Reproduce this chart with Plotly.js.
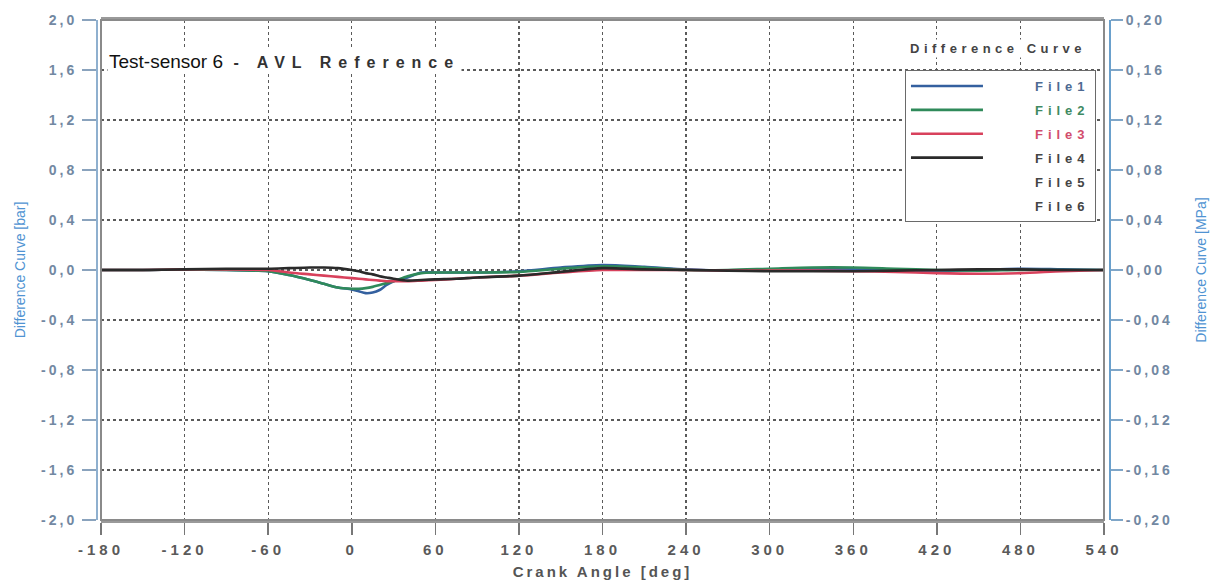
<!DOCTYPE html>
<html>
<head>
<meta charset="utf-8">
<script src="https://cdn.plot.ly/plotly-3.0.1.min.js"></script>
<style>
  html, body { margin: 0; padding: 0; background: #fff; }
  #chart { width: 1213px; height: 587px; }
  .xtick text { letter-spacing: 4px; }
  .ytick text, .y2tick text { letter-spacing: 3px; }
</style>
</head>
<body>
<div id="chart"></div>
<script>
// ---- data ----
const angles = [-180,-150,-120,-90,-60,-45,-30,-20,-10,0,5,10,15,20,25,30,40,50,60,75,90,120,150,180,210,240,270,300,330,360,390,420,450,480,510,540];

const file1 = [0,0,0.005,0,-0.01, -0.04,-0.08,-0.11,-0.14,-0.155, -0.17,-0.185,-0.18,-0.16,-0.12, -0.09,-0.06,-0.02,-0.02,-0.02, -0.02,-0.01,0.02,0.04,0.025, 0.005,-0.005,0,0.01,0.005, -0.005,-0.01,0,0.01,0.005, 0];
const file2 = [0,0,0.005,0,-0.01, -0.04,-0.08,-0.11,-0.14,-0.15, -0.15,-0.145,-0.135,-0.12,-0.105, -0.09,-0.05,-0.025,-0.02,-0.02, -0.02,-0.015,0.01,0.03,0.02, 0,0,0.01,0.02,0.02, 0.01,0,-0.005,0,0, 0];
const file3 = [0,0,0.005,0.005,0, -0.02,-0.035,-0.045,-0.055,-0.065, -0.07,-0.075,-0.08,-0.085,-0.09, -0.09,-0.09,-0.085,-0.08,-0.07, -0.06,-0.045,-0.02,0,0, 0,-0.005,-0.005,-0.005,-0.01, -0.015,-0.025,-0.03,-0.025,-0.01, 0];
const file4 = [0,0,0.005,0.01,0.01, 0.015,0.02,0.02,0.015,0, -0.01,-0.025,-0.035,-0.05,-0.06, -0.07,-0.085,-0.08,-0.075,-0.07, -0.06,-0.045,-0.015,0.015,0.005, 0,-0.005,-0.01,-0.01,-0.01, -0.005,0,0.005,0.005,0, 0];
const file5 = [];
const file6 = [];

const seriesNames = ['File1','File2','File3','File4','File5','File6'];
const seriesColors = ['#34609f','#2f8a5a','#d8415c','#2a2a2a','#2a2a2a','#2a2a2a'];
const legendTextColors = ['#4d6a92','#3f8a62','#d24d6c','#454545','#454545','#454545'];

const xTickVals = [-180,-120,-60,0,60,120,180,240,300,360,420,480,540];
const xTickText = ['-180','-120','-60','0','60','120','180','240','300','360','420','480','540'];
const yTickVals = [-2,-1.6,-1.2,-0.8,-0.4,0,0.4,0.8,1.2,1.6,2];
const yTickText = ['-2,0','-1,6','-1,2','-0,8','-0,4','0,0','0,4','0,8','1,2','1,6','2,0'];
const y2TickVals = [-0.2,-0.16,-0.12,-0.08,-0.04,0,0.04,0.08,0.12,0.16,0.2];
const y2TickText = ['-0,20','-0,16','-0,12','-0,08','-0,04','0,00','0,04','0,08','0,12','0,16','0,20'];

// ---- traces ----
const FONT = 'Liberation Sans, Arial, sans-serif';
const allSeries = [file1,file2,file3,file4,file5,file6];
const pad = '\u00a0'.repeat(13);
const traces = allSeries.map((vals, i) => ({
  type: 'scatter',
  mode: 'lines',
  x: vals.length ? angles : [null],
  y: vals.length ? vals : [null],
  yaxis: vals.length ? 'y' : 'y2',
  name: pad + '<span style="color:' + legendTextColors[i] + ';letter-spacing:5px">' + seriesNames[i] + '</span>',
  legendgroup: 'g' + i,
  line: { color: vals.length ? seriesColors[i] : 'rgba(0,0,0,0)', width: vals.length ? 2.6 : 0, shape: 'spline', smoothing: 0.8 },
  hoverinfo: 'x+y'
}));

const gridDot = { showgrid: true, gridcolor: '#5a5a5a', griddash: 'dot', gridwidth: 1.3 };

const layout = {
  width: 1213, height: 587,
  margin: { l: 97, r: 103, t: 20, b: 67 },
  paper_bgcolor: '#ffffff', plot_bgcolor: '#ffffff',
  showlegend: true,
  legend: {
    x: 0.7976, xanchor: 'left', y: 0.9, yanchor: 'top',
    bordercolor: '#6a6a6a', borderwidth: 1, bgcolor: '#ffffff',
    traceorder: 'grouped', tracegroupgap: 4, itemwidth: 72,
    font: { family: FONT, size: 13, color: '#444', weight: 'bold' }
  },
  xaxis: Object.assign({
    domain: [4/1013, 1 - 6/1013],
    range: [-180, 540],
    tickmode: 'array', tickvals: xTickVals, ticktext: xTickText,
    ticks: 'outside', ticklen: 12, tickwidth: 1.5, tickcolor: '#777',
    ticklabelstandoff: 2,
    tickfont: { family: FONT, size: 15, color: '#5a5a5a', weight: 'bold' },
    showline: true, linecolor: '#9a9a9a', linewidth: 3, mirror: true,
    zeroline: false,
    title: { text: '<span style="letter-spacing:3px">Crank Angle [deg]</span>', font: { family: FONT, size: 15, color: '#555', weight: 'bold' }, standoff: 10 }
  }, gridDot),
  yaxis: Object.assign({
    range: [-2, 2],
    anchor: 'free', position: 0,
    tickmode: 'array', tickvals: yTickVals, ticktext: yTickText,
    ticks: 'outside', ticklen: 14, tickwidth: 1.5, tickcolor: '#8aa3bd',
    ticklabelstandoff: 2,
    tickfont: { family: FONT, size: 14, color: '#7288a2', weight: 'bold' },
    showline: true, linecolor: '#8fb0cf', linewidth: 2,
    zeroline: false,
    title: { text: 'Difference Curve [bar]', font: { family: FONT, size: 14, color: '#4f93d2' }, standoff: 11 }
  }, gridDot),
  yaxis2: {
    range: [-0.2, 0.2],
    overlaying: 'y', side: 'right', anchor: 'free', position: 1,
    tickmode: 'array', tickvals: y2TickVals, ticktext: y2TickText,
    ticks: 'outside', ticklen: 12, tickwidth: 1.5, tickcolor: '#7fa6c8',
    tickfont: { family: FONT, size: 14, color: '#7288a2', weight: 'bold' },
    showline: true, linecolor: '#6aa0cc', linewidth: 2,
    showgrid: false, zeroline: false,
    title: { text: 'Difference Curve [MPa]', font: { family: FONT, size: 14, color: '#4f93d2' }, standoff: 23 }
  },
  shapes: [
    { type: 'rect', xref: 'x domain', yref: 'y domain', x0: 0, x1: 1, y0: 0, y1: 1, line: { color: '#8a8a8a', width: 2 }, layer: 'above' }
  ],
  annotations: [
    { xref: 'paper', yref: 'paper', x: 0.0095, y: 0.916, xanchor: 'left', yanchor: 'middle', showarrow: false,
      text: 'Test-sensor 6\u00a0 <span style="letter-spacing:7px;font-weight:bold;color:#333;font-size:16px">- AVL Reference</span>',
      font: { family: FONT, size: 19, color: '#111' }, bgcolor: '#ffffff', borderpad: 1 },
    { xref: 'paper', yref: 'paper', x: 0.889, y: 0.944, xanchor: 'center', yanchor: 'middle', showarrow: false,
      text: '<span style="letter-spacing:4.5px">Difference Curve</span>',
      font: { family: FONT, size: 13, color: '#444', weight: 'bold' }, bgcolor: '#ffffff' }
  ]
};

Plotly.newPlot('chart', traces, layout, { displayModeBar: false, staticPlot: true });
</script>
</body>
</html>
